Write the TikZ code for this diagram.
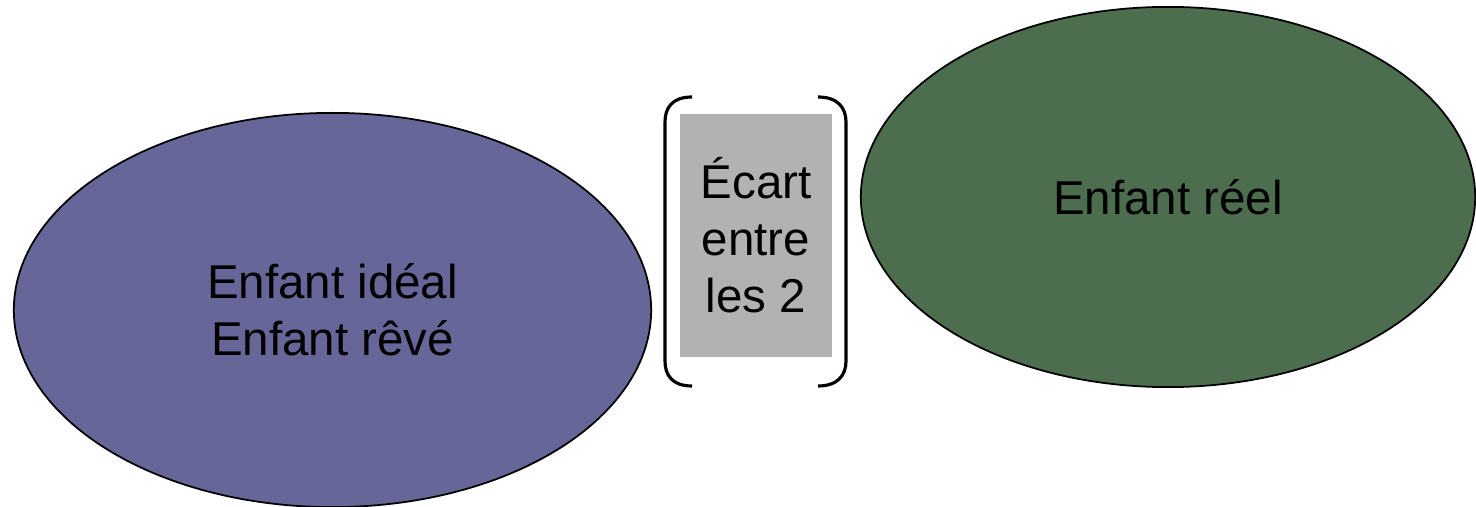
\documentclass[tikz,border=0pt]{standalone}
\usepackage{fontspec}
\setmainfont{Liberation Sans}
\usepackage{tikz}
\usepackage{xcolor}
\usetikzlibrary{positioning,shapes}

\definecolor{idealblue}{RGB}{102,102,153}
\definecolor{reelgreen}{RGB}{77,109,79}
\definecolor{ecartgray}{RGB}{178,178,178}

\begin{document}
\begin{tikzpicture}[x=0.01cm,y=-0.01cm]
\tikzstyle{every node}+=[inner sep=0pt,font=\fontsize{13.5}{16.2}\selectfont,align=center]
\tikzstyle{enfant}=[ellipse,draw=black,line width=0.5pt]
\useasboundingbox (0,0) rectangle (1476,507);
\node [enfant,fill=idealblue,minimum width=6.37cm,minimum height=3.94cm] (ideal) at (332.5,310) {Enfant idéal\\Enfant rêvé};
\node [enfant,fill=reelgreen,minimum width=6.14cm,minimum height=3.8cm] (reel) at (1168,197) {Enfant réel};
\node [fill=ecartgray,minimum width=1.52cm,minimum height=2.43cm] (ecart) at (756,235.5) {Écart\\entre\\les 2};
% crochets
\draw [black,line width=0.9pt] (692,97) .. controls (672,97) and (665,108) .. (665,122) -- (665,361) .. controls (665,375) and (672,386) .. (692,386);
\draw [black,line width=0.9pt] (818,97) .. controls (838,97) and (846,108) .. (846,122) -- (846,361) .. controls (846,375) and (838,386) .. (818,386);
\end{tikzpicture}
\end{document}
